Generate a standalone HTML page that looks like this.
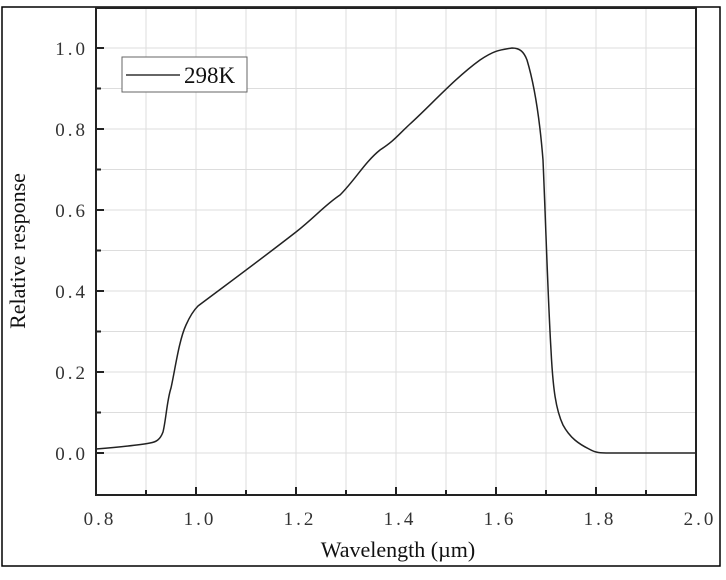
<!DOCTYPE html>
<html><head><style>body{margin:0;background:#fff}svg{display:block}</style></head><body>
<svg width="726" height="580" xmlns="http://www.w3.org/2000/svg" font-family="Liberation Serif, serif">
<rect x="2" y="7" width="718" height="559" fill="none" stroke="#000" stroke-width="1.5"/>
<g stroke="#ddd" stroke-width="1">
<line x1="146" y1="8" x2="146" y2="495"/><line x1="196" y1="8" x2="196" y2="495"/><line x1="246" y1="8" x2="246" y2="495"/><line x1="296" y1="8" x2="296" y2="495"/><line x1="346" y1="8" x2="346" y2="495"/><line x1="396" y1="8" x2="396" y2="495"/><line x1="446" y1="8" x2="446" y2="495"/><line x1="496" y1="8" x2="496" y2="495"/><line x1="546" y1="8" x2="546" y2="495"/><line x1="596" y1="8" x2="596" y2="495"/><line x1="646" y1="8" x2="646" y2="495"/>
<line x1="96" y1="453" x2="696" y2="453"/><line x1="96" y1="412.5" x2="696" y2="412.5"/><line x1="96" y1="372" x2="696" y2="372"/><line x1="96" y1="331.5" x2="696" y2="331.5"/><line x1="96" y1="291" x2="696" y2="291"/><line x1="96" y1="250.5" x2="696" y2="250.5"/><line x1="96" y1="210" x2="696" y2="210"/><line x1="96" y1="169.5" x2="696" y2="169.5"/><line x1="96" y1="129" x2="696" y2="129"/><line x1="96" y1="88.5" x2="696" y2="88.5"/><line x1="96" y1="48" x2="696" y2="48"/>
</g>
<rect x="96" y="8" width="600" height="487" fill="none" stroke="#222" stroke-width="2"/>
<g stroke="#222" stroke-width="2">
<line x1="196" y1="495" x2="196" y2="487"/><line x1="296" y1="495" x2="296" y2="487"/><line x1="396" y1="495" x2="396" y2="487"/><line x1="496" y1="495" x2="496" y2="487"/><line x1="596" y1="495" x2="596" y2="487"/>
<line x1="146" y1="495" x2="146" y2="490"/><line x1="246" y1="495" x2="246" y2="490"/><line x1="346" y1="495" x2="346" y2="490"/><line x1="446" y1="495" x2="446" y2="490"/><line x1="546" y1="495" x2="546" y2="490"/><line x1="646" y1="495" x2="646" y2="490"/>
<line x1="96" y1="453" x2="104" y2="453"/><line x1="96" y1="372" x2="104" y2="372"/><line x1="96" y1="291" x2="104" y2="291"/><line x1="96" y1="210" x2="104" y2="210"/><line x1="96" y1="129" x2="104" y2="129"/><line x1="96" y1="48" x2="104" y2="48"/>
<line x1="96" y1="412.5" x2="101" y2="412.5"/><line x1="96" y1="331.5" x2="101" y2="331.5"/><line x1="96" y1="250.5" x2="101" y2="250.5"/><line x1="96" y1="169.5" x2="101" y2="169.5"/><line x1="96" y1="88.5" x2="101" y2="88.5"/>
</g>
<g font-size="19" fill="#333" text-anchor="middle" letter-spacing="3">
<text x="100" y="525">0.8</text><text x="200" y="525">1.0</text><text x="300" y="525">1.2</text><text x="400" y="525">1.4</text><text x="500" y="525">1.6</text><text x="600" y="525">1.8</text><text x="700" y="525">2.0</text>
</g>
<g font-size="19" fill="#333" text-anchor="end" letter-spacing="3">
<text x="88" y="460">0.0</text><text x="88" y="379">0.2</text><text x="88" y="298">0.4</text><text x="88" y="217">0.6</text><text x="88" y="136">0.8</text><text x="88" y="55">1.0</text>
</g>
<text x="398" y="557" font-size="22" text-anchor="middle" fill="#111">Wavelength (µm)</text>
<text transform="translate(25,251) rotate(-90)" font-size="22" text-anchor="middle" fill="#111">Relative response</text>
<rect x="122" y="57" width="125" height="35" fill="#fff" stroke="#666" stroke-width="1"/>
<line x1="126" y1="75" x2="180" y2="75" stroke="#333" stroke-width="1.5"/>
<text x="184" y="83" font-size="23" fill="#111">298K</text>
<path fill="none" stroke="#222" stroke-width="1.5" d="M96,449 C120,447 140,445 150,443 C156,442 160,440 163,432 C166,420 167,400 171,388 C175,370 179,340 186,325 C190,316 193,311 198,306 C230,282 260,260 296,232 C315,217 325,205 340,195 C355,180 365,162 380,150 C395,140 396,137 410,124 C430,106 455,78 480,60 C495,50 500,50 512,48 C520,48 524,52 527,60 C533,80 539,110 543,160 C546,230 548,300 551,350 C553,390 556,410 563,425 C570,438 579,444 589,449 C596,453 600,453 610,453 L696,453"/>
</svg>
</body></html>
